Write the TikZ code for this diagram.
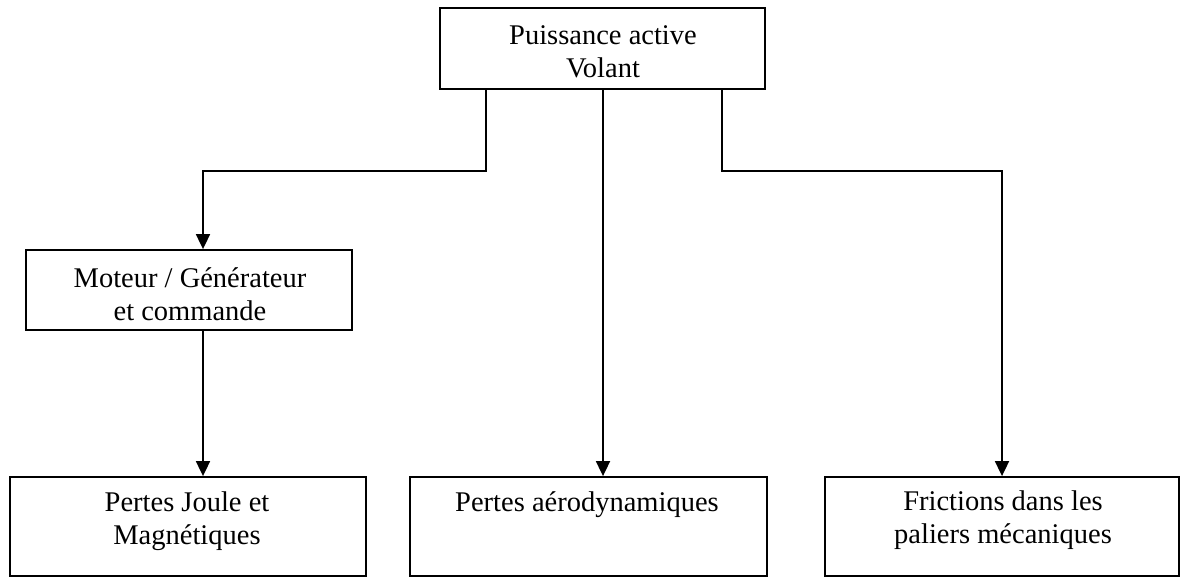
\documentclass[tikz,border=0pt]{standalone}
\usepackage{fontspec}
\setmainfont{Liberation Serif}
\usetikzlibrary{arrows.meta,positioning}
\begin{document}
\begin{tikzpicture}[x=1pt,y=-1pt,line width=1.8pt,
    box/.style={draw,rectangle,inner sep=0pt},
    txt/.style={align=center,inner sep=0pt,font=\fontsize{28.5}{33}\selectfont},
    arr/.style={-{Triangle[width=14pt,length=15pt]}}]
\useasboundingbox (0,0) rectangle (1180,577);
\node[box,minimum width=325,minimum height=81] (vol) at (602.5,48.5) {};
\node[txt] (voltxt) at (603,52) {Puissance active\\Volant};
\node[box,minimum width=326,minimum height=80] (mot) at (189,290) {};
\node[txt] (mottxt) at (190,294) {Moteur / Générateur\\et commande};
\node[box,minimum width=356,minimum height=99] (joule) at (188,526.5) {};
\node[txt,anchor=north] (jouletxt) at ([yshift=-15pt]joule.north -| 187,0) {Pertes Joule et\\Magnétiques};
\node[box,minimum width=357,minimum height=99] (aero) at (588.5,526.5) {};
\node[txt,anchor=north] (aerotxt) at ([yshift=-15pt]aero.north -| 587,0) {Pertes aérodynamiques};
\node[box,minimum width=354,minimum height=99] (fric) at (1002,526.5) {};
\node[txt,anchor=north] (frictxt) at ([yshift=-14pt]fric.north -| 1003,0) {Frictions dans les\\paliers mécaniques};
\draw[arr] ([xshift=-116.5pt]vol.south) -- ++(0,81) -| ([xshift=14pt]mot.north);
\draw[arr] ([xshift=0.5pt]vol.south) -- ([xshift=0.5pt]vol.south |- aero.north);
\draw[arr] ([xshift=119.5pt]vol.south) -- ++(0,81) -| (fric.north);
\draw[arr] ([xshift=14pt]mot.south) -- ([xshift=14pt]mot.south |- joule.north);
\end{tikzpicture}
\end{document}
